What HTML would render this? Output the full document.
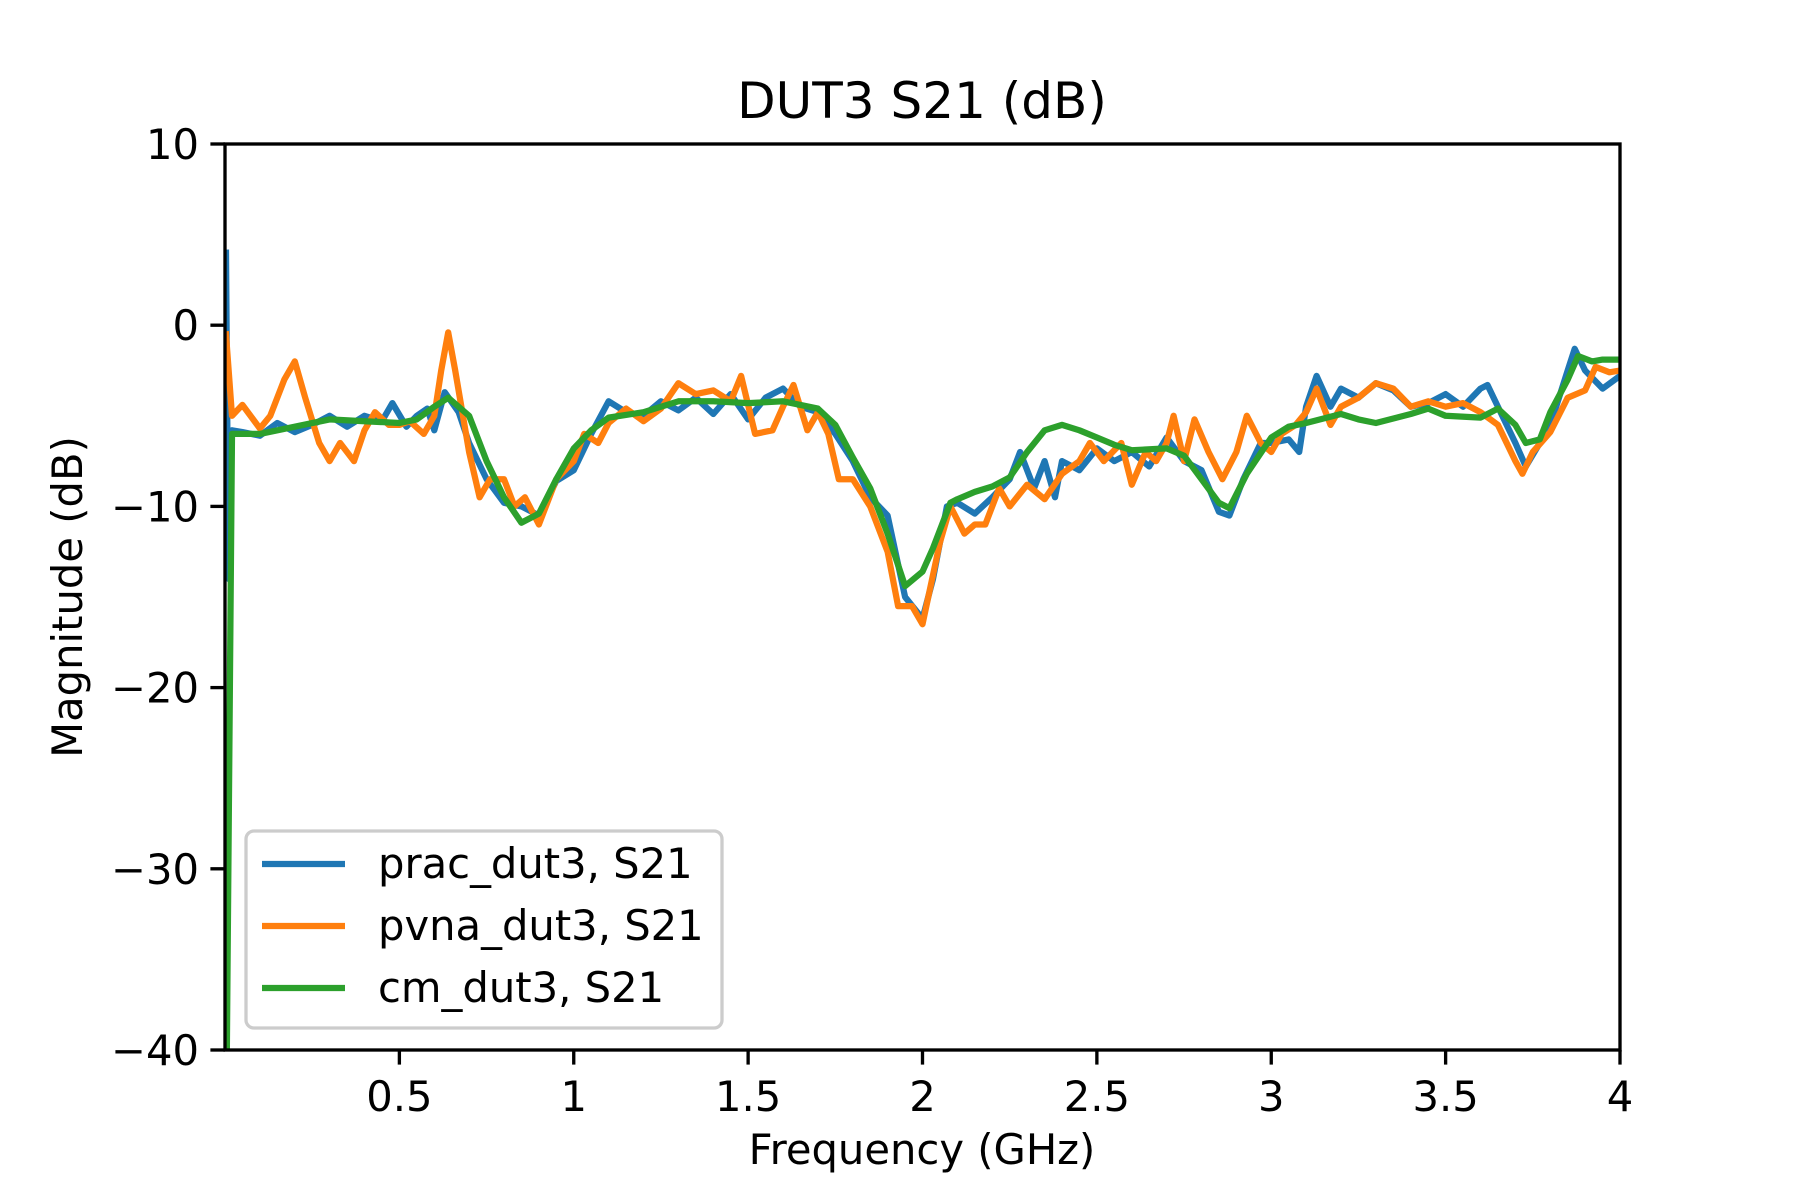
<!DOCTYPE html>
<html><head><meta charset="utf-8"><style>
html,body{margin:0;padding:0;background:#fff}
svg{display:block}
text{font-family:"DejaVu Sans","Liberation Sans",sans-serif;fill:#000}
</style></head><body>
<svg id="chart" width="1800" height="1200" viewBox="0 0 1800 1200" xmlns="http://www.w3.org/2000/svg">
<defs><clipPath id="clip"><rect x="225" y="144" width="1395" height="906"/></clipPath></defs>
<rect width="1800" height="1200" fill="#fff"/>
<text x="922" y="118" font-size="50" text-anchor="middle">DUT3 S21 (dB)</text>
<g id="plot" clip-path="url(#clip)"></g>
<g id="axes"></g>
<text x="922" y="1164" font-size="41.7" text-anchor="middle">Frequency (GHz)</text>
<text transform="translate(82,597) rotate(-90)" font-size="41.7" text-anchor="middle">Magnitude (dB)</text>
<g>
<rect x="246" y="831" width="476" height="197" rx="8" fill="#fff" fill-opacity="0.8" stroke="#ccc" stroke-width="3.3"/>
<line x1="262" y1="864" x2="345" y2="864" stroke="#1f77b4" stroke-width="6.25"/>
<text x="378" y="878" font-size="41.7">prac_dut3, S21</text>
<line x1="262" y1="926" x2="345" y2="926" stroke="#ff7f0e" stroke-width="6.25"/>
<text x="378" y="940" font-size="41.7">pvna_dut3, S21</text>
<line x1="262" y1="988" x2="345" y2="988" stroke="#2ca02c" stroke-width="6.25"/>
<text x="378" y="1002" font-size="41.7">cm_dut3, S21</text>
</g>
</svg>
<script>
const xTicks=[0.5,1,1.5,2,2.5,3,3.5,4];
const xTickLabels=["0.5","1","1.5","2","2.5","3","3.5","4"];
const yTicks=[10,0,-10,-20,-30,-40];
const yTickLabels=["10","0","\u221210","\u221220","\u221230","\u221240"];
const pracF=[0.003,0.01,0.02,0.05,0.1,0.15,0.2,0.25,0.3,0.35,0.4,0.45,0.48,0.52,0.55,0.58,0.6,0.63,0.67,0.7,0.75,0.8,0.85,0.9,0.95,1.0,1.05,1.1,1.15,1.2,1.25,1.3,1.35,1.4,1.45,1.5,1.55,1.6,1.65,1.7,1.75,1.8,1.85,1.9,1.95,2.0,2.03,2.07,2.1,2.15,2.2,2.25,2.28,2.32,2.35,2.38,2.4,2.45,2.5,2.55,2.6,2.65,2.7,2.75,2.8,2.85,2.88,2.92,2.97,3.0,3.05,3.08,3.1,3.13,3.17,3.2,3.25,3.3,3.35,3.4,3.45,3.5,3.55,3.6,3.62,3.65,3.7,3.73,3.77,3.8,3.85,3.87,3.9,3.95,4.0];
const pracDb=[4,-14,-5.8,-5.9,-6.1,-5.4,-5.9,-5.5,-5.0,-5.6,-5.0,-5.3,-4.3,-5.6,-5.0,-4.6,-5.8,-3.7,-4.8,-6.5,-8.5,-9.8,-10,-10.5,-8.6,-8.0,-6,-4.2,-4.8,-5,-4.2,-4.7,-4,-4.9,-3.8,-5.2,-4.0,-3.5,-4.5,-4.8,-6,-7.5,-9.5,-10.5,-15,-16.2,-14,-10,-9.8,-10.4,-9.5,-8.5,-7,-9,-7.5,-9.5,-7.5,-8,-6.8,-7.5,-7,-7.8,-6.2,-7.5,-8,-10.3,-10.5,-8.5,-6.5,-6.5,-6.3,-7,-4.5,-2.8,-4.5,-3.5,-4,-3.2,-3.6,-4.5,-4.3,-3.8,-4.5,-3.5,-3.3,-4.5,-6.5,-7.8,-6.5,-5.5,-2.5,-1.3,-2.5,-3.5,-2.8];
const pvnaF=[0.003,0.02,0.05,0.1,0.13,0.17,0.2,0.23,0.27,0.3,0.33,0.37,0.4,0.43,0.47,0.5,0.53,0.57,0.6,0.62,0.64,0.66,0.7,0.73,0.76,0.8,0.83,0.86,0.9,0.95,1.0,1.03,1.07,1.1,1.15,1.2,1.25,1.3,1.35,1.4,1.45,1.48,1.52,1.57,1.6,1.63,1.67,1.7,1.73,1.76,1.8,1.85,1.9,1.93,1.97,2.0,2.05,2.08,2.12,2.15,2.18,2.22,2.25,2.3,2.35,2.4,2.45,2.48,2.52,2.57,2.6,2.64,2.67,2.7,2.72,2.75,2.78,2.82,2.86,2.9,2.93,2.97,3.0,3.03,3.07,3.1,3.13,3.17,3.2,3.25,3.3,3.35,3.4,3.45,3.5,3.55,3.6,3.65,3.7,3.72,3.75,3.8,3.85,3.9,3.93,3.97,4.0];
const pvnaDb=[-0.5,-5,-4.4,-5.7,-5,-3,-2,-4,-6.5,-7.5,-6.5,-7.5,-5.8,-4.8,-5.5,-5.5,-5.3,-6,-5.0,-2.5,-0.4,-2.5,-7,-9.5,-8.5,-8.5,-10,-9.5,-11,-8.5,-7.5,-6,-6.5,-5.4,-4.6,-5.3,-4.6,-3.2,-3.8,-3.6,-4.2,-2.8,-6,-5.8,-4.5,-3.3,-5.8,-4.8,-6,-8.5,-8.5,-10,-12.5,-15.5,-15.5,-16.5,-12,-10,-11.5,-11,-11,-9,-10,-8.8,-9.6,-8.2,-7.5,-6.5,-7.5,-6.5,-8.8,-7,-7.5,-6.5,-5,-7.5,-5.2,-7,-8.5,-7,-5,-6.5,-7,-6,-5.5,-4.8,-3.5,-5.5,-4.5,-4,-3.2,-3.5,-4.5,-4.2,-4.5,-4.3,-4.8,-5.5,-7.5,-8.2,-7,-5.9,-4,-3.6,-2.3,-2.6,-2.5];
const cmF=[0.005,0.02,0.1,0.2,0.3,0.4,0.5,0.55,0.6,0.64,0.7,0.75,0.8,0.85,0.9,0.95,1.0,1.05,1.1,1.2,1.3,1.4,1.5,1.6,1.7,1.75,1.8,1.85,1.9,1.95,2.0,2.03,2.08,2.1,2.15,2.2,2.25,2.3,2.35,2.4,2.45,2.5,2.55,2.6,2.7,2.75,2.8,2.85,2.88,2.93,3.0,3.05,3.1,3.2,3.25,3.3,3.4,3.45,3.5,3.6,3.65,3.7,3.73,3.77,3.8,3.85,3.88,3.92,3.95,4.0];
const cmDb=[-41,-6,-6,-5.6,-5.2,-5.3,-5.4,-5.2,-4.5,-4.0,-5,-7.5,-9.5,-10.9,-10.4,-8.5,-6.8,-5.8,-5.1,-4.8,-4.2,-4.2,-4.3,-4.2,-4.6,-5.5,-7.3,-9,-11.5,-14.4,-13.6,-12.3,-9.8,-9.6,-9.2,-8.9,-8.4,-7,-5.8,-5.5,-5.8,-6.2,-6.6,-6.9,-6.8,-7.2,-8.5,-9.8,-10.1,-8.2,-6.2,-5.6,-5.4,-4.9,-5.2,-5.4,-4.9,-4.6,-5.0,-5.1,-4.6,-5.5,-6.5,-6.3,-4.8,-3.0,-1.7,-2.0,-1.9,-1.9];
const X0=225,X1=1620,Y0=144,Y1=1050;
function xs(v){return X0+(v-0)/(4-0)*(X1-X0);}
function ys(v){return Y0+(10-v)/(10-(-40))*(Y1-Y0);}
const NS="http://www.w3.org/2000/svg";
const plot=document.getElementById('plot'),axes=document.getElementById('axes');
function series(f,d,color,name){
  const p=document.createElementNS(NS,'path');
  p.setAttribute('d',f.map((v,i)=>(i?'L':'M')+xs(v).toFixed(1)+' '+ys(d[i]).toFixed(1)).join(' '));
  p.setAttribute('fill','none');p.setAttribute('stroke',color);
  p.setAttribute('stroke-width','6.25');p.setAttribute('stroke-linejoin','round');p.setAttribute('stroke-linecap','square');
  
  
  plot.appendChild(p);
}
series(pracF,pracDb,'#1f77b4','prac-series-line');
series(pvnaF,pvnaDb,'#ff7f0e','pvna-series-line');
series(cmF,cmDb,'#2ca02c','cm-series-line');
const frame=document.createElementNS(NS,'rect');
frame.setAttribute('x',X0);frame.setAttribute('y',Y0);frame.setAttribute('width',X1-X0);frame.setAttribute('height',Y1-Y0);
frame.setAttribute('fill','none');frame.setAttribute('stroke','#000');frame.setAttribute('stroke-width','3.33');


axes.appendChild(frame);
xTicks.forEach((t,i)=>{
  const l=document.createElementNS(NS,'line');
  l.setAttribute('x1',xs(t));l.setAttribute('x2',xs(t));l.setAttribute('y1',Y1);l.setAttribute('y2',Y1+14.6);
  l.setAttribute('stroke','#000');l.setAttribute('stroke-width','3.33');
  
  
  axes.appendChild(l);
  const tx=document.createElementNS(NS,'text');
  tx.setAttribute('x',xs(t));tx.setAttribute('y',Y1+61);tx.setAttribute('font-size','41.7');tx.setAttribute('text-anchor','middle');
  tx.textContent=xTickLabels[i];
  
  
  axes.appendChild(tx);
});
yTicks.forEach((t,i)=>{
  const l=document.createElementNS(NS,'line');
  l.setAttribute('x1',X0-14.6);l.setAttribute('x2',X0);l.setAttribute('y1',ys(t));l.setAttribute('y2',ys(t));
  l.setAttribute('stroke','#000');l.setAttribute('stroke-width','3.33');
  
  
  axes.appendChild(l);
  const tx=document.createElementNS(NS,'text');
  tx.setAttribute('x',X0-26);tx.setAttribute('y',ys(t)+15);tx.setAttribute('font-size','41.7');tx.setAttribute('text-anchor','end');
  tx.textContent=yTickLabels[i];
  
  
  axes.appendChild(tx);
});
</script>
</body></html>
